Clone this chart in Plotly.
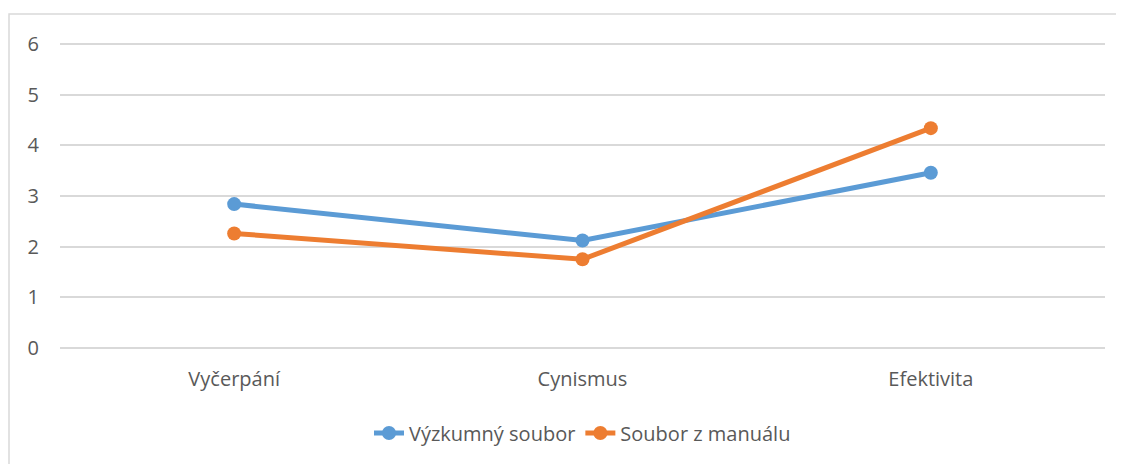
import plotly.graph_objects as go

# data
kategorie = ["Vyčerpání", "Cynismus", "Efektivita"]
vyzkumny_soubor = [2.84, 2.12, 3.46]
soubor_z_manualu = [2.26, 1.75, 4.34]

FONT = "'Open Sans', sans-serif"
TEXT = "#595959"

fig = go.Figure()
fig.add_trace(go.Scatter(
    x=kategorie, y=vyzkumny_soubor, name="Výzkumný soubor",
    mode="lines+markers",
    line=dict(color="#5B9BD5", width=5),
    marker=dict(size=14, color="#5B9BD5"),
))
fig.add_trace(go.Scatter(
    x=kategorie, y=soubor_z_manualu, name="Soubor z manuálu",
    mode="lines+markers",
    line=dict(color="#ED7D31", width=5),
    marker=dict(size=14, color="#ED7D31"),
))

# chart frame (cut by the window on the right and bottom)
fig.add_shape(type="rect", xref="paper", yref="paper",
              x0=-0.0488, x1=1.2, y0=-0.6, y1=1.0796,
              line=dict(color="#d9d9d9", width=1.5), layer="above")

fig.update_layout(
    width=1116, height=456,
    margin=dict(l=52, r=19, t=31, b=111),
    paper_bgcolor="white", plot_bgcolor="white",
    font=dict(family=FONT, size=20, color=TEXT),
    showlegend=True,
    legend=dict(orientation="h", x=0.5, xanchor="center", y=-0.255, yanchor="middle",
                font=dict(size=20, color=TEXT), tracegroupgap=0),
    xaxis=dict(type="category", range=[-0.5, 2.5], showgrid=False, zeroline=False,
               showline=False, ticks="", ticklabelstandoff=12,
               tickfont=dict(size=20, color=TEXT)),
    yaxis=dict(range=[-0.1, 6.1], tickvals=[0, 1, 2, 3, 4, 5, 6],
               showgrid=True, gridcolor="#d9d9d9", gridwidth=1.5,
               zeroline=False, showline=False, ticks="", ticklabelstandoff=20,
               tickfont=dict(size=20, color=TEXT)),
)

fig.write_html("out.html")
